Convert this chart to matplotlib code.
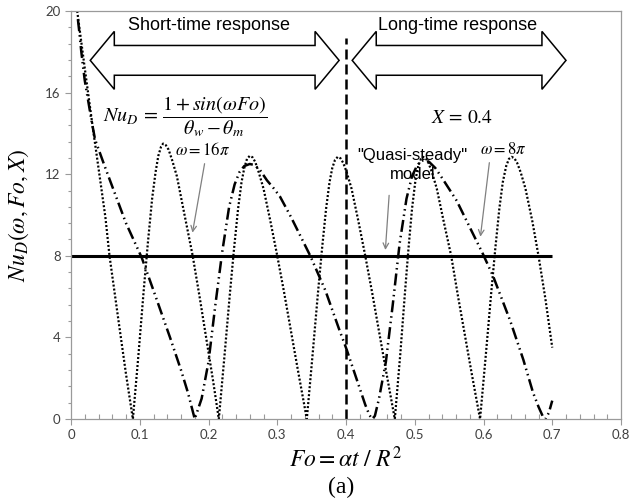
import matplotlib
matplotlib.use("Agg")
import matplotlib.pyplot as plt
from matplotlib.patches import Polygon
from matplotlib.ticker import MultipleLocator

plt.rcParams['mathtext.fontset'] = 'stix'

# omega = 16 pi (dotted curve)
fo_16 = [0.009, 0.02, 0.03, 0.04, 0.05, 0.056, 0.07, 0.08, 0.09,
         0.098, 0.106, 0.112, 0.118, 0.123, 0.127, 0.131, 0.134,
         0.138, 0.142, 0.147, 0.154, 0.164, 0.177, 0.187, 0.197, 0.207, 0.215,
         0.223, 0.231, 0.237, 0.243, 0.248, 0.252, 0.256, 0.260,
         0.264, 0.268, 0.273, 0.280, 0.290, 0.300, 0.310, 0.320, 0.330, 0.343,
         0.351, 0.359, 0.365, 0.371, 0.376, 0.380, 0.384, 0.388,
         0.392, 0.396, 0.401, 0.408, 0.418, 0.428, 0.438, 0.448, 0.458, 0.471,
         0.479, 0.486, 0.491, 0.496, 0.501, 0.505, 0.509, 0.512,
         0.516, 0.520, 0.525, 0.532, 0.542, 0.553, 0.563, 0.573, 0.583, 0.595,
         0.603, 0.611, 0.617, 0.623, 0.628, 0.633, 0.637, 0.641,
         0.645, 0.649, 0.654, 0.661, 0.671, 0.680, 0.690, 0.700]
nu_16 = [20.0, 17.2, 14.7, 12.3, 9.9, 8.0, 4.6, 2.2, 0.0,
         3.1, 6.4, 8.7, 10.8, 12.1, 12.9, 13.35, 13.5,
         13.42, 13.2, 12.7, 11.9, 10.2, 8.0, 6.0, 3.9, 1.8, 0.0,
         3.0, 6.1, 8.3, 10.3, 11.6, 12.3, 12.75, 12.9,
         12.83, 12.6, 12.1, 11.3, 9.7, 8.0, 6.2, 4.3, 2.4, 0.0,
         3.0, 6.1, 8.3, 10.3, 11.6, 12.3, 12.7, 12.85,
         12.78, 12.55, 12.1, 11.3, 9.7, 8.0, 6.2, 4.3, 2.4, 0.0,
         3.2, 6.3, 8.4, 10.3, 11.7, 12.4, 12.75, 12.85,
         12.78, 12.55, 12.1, 11.3, 9.7, 8.0, 6.0, 4.1, 2.2, 0.0,
         3.0, 6.1, 8.3, 10.3, 11.6, 12.4, 12.75, 12.85,
         12.78, 12.55, 12.1, 11.3, 9.7, 8.0, 5.9, 3.5]

# omega = 8 pi (dash-dot-dot curve)
fo_8 = [0.010, 0.012, 0.015, 0.020, 0.025, 0.030, 0.035, 0.050, 0.060,
        0.080, 0.103, 0.120, 0.144, 0.160, 0.170, 0.180,
        0.190, 0.200, 0.210, 0.220, 0.230, 0.238, 0.245, 0.252, 0.260,
        0.267, 0.275, 0.285, 0.295, 0.304, 0.320, 0.348, 0.370, 0.390,
        0.401, 0.410, 0.420, 0.428, 0.434, 0.438, 0.442,
        0.448, 0.458, 0.468, 0.478, 0.488, 0.496, 0.503, 0.509, 0.515,
        0.521, 0.530, 0.540, 0.561, 0.580, 0.599, 0.614, 0.639, 0.658,
        0.672, 0.680, 0.686, 0.690, 0.695, 0.700]
nu_8 = [19.6, 19.0, 18.0, 16.6, 15.6, 14.6, 13.7, 12.3, 11.4,
        9.6, 7.9, 6.3, 4.0, 2.4, 1.3, 0.0,
        1.0, 2.8, 5.6, 8.2, 10.4, 11.5, 12.1, 12.4, 12.5,
        12.45, 12.2, 11.7, 11.3, 10.9, 9.9, 8.0, 6.3, 4.4,
        3.4, 2.5, 1.5, 0.7, 0.2, 0.0, 0.15,
        1.0, 2.8, 5.6, 8.6, 10.8, 11.9, 12.4, 12.65, 12.7,
        12.6, 12.3, 11.8, 10.7, 9.4, 8.1, 7.0, 4.8, 2.9,
        1.3, 0.6, 0.15, 0.0, 0.3, 0.9]

quasi_steady = 8.0
fo_steady = [0.0, 0.7]
fo_switch = 0.4

x_ticks = [0, 0.1, 0.2, 0.3, 0.4, 0.5, 0.6, 0.7, 0.8]
y_ticks = [0, 4, 8, 12, 16, 20]

grey = '#9a9a9a'
narrow = ['Liberation Sans Narrow', 'Liberation Sans', 'DejaVu Sans']

fig = plt.figure(figsize=(6.3, 5.04), dpi=100)
ax = fig.add_axes([71/630, 85/504, 550/630, 408/504])

ax.plot(fo_8, nu_8, color='black', lw=1.8,
        linestyle=(0, (4.8, 1.6, 0.6, 1.6, 0.6, 1.6)))
ax.plot(fo_16, nu_16, color='black', lw=1.6, linestyle=(0, (0.9, 0.9)))
ax.plot(fo_steady, [quasi_steady, quasi_steady], color='black', lw=2.2,
        solid_capstyle='butt')
ax.plot([fo_switch, fo_switch], [0, 18.7], color='black', lw=1.8,
        linestyle=(0, (4, 2)))


def block_arrow(x0, x1, head):
    yc, s, h = 17.58, 0.73, 1.42
    pts = [(x0, yc), (x0 + head, yc + h), (x0 + head, yc + s),
           (x1 - head, yc + s), (x1 - head, yc + h), (x1, yc),
           (x1 - head, yc - h), (x1 - head, yc - s), (x0 + head, yc - s),
           (x0 + head, yc - h)]
    ax.add_patch(Polygon(pts, closed=True, facecolor='white',
                         edgecolor='black', lw=1.1, zorder=3))


block_arrow(0.028, 0.390, 0.035)
block_arrow(0.409, 0.720, 0.035)

ax.text(0.201, 19.3, 'Short-time response', ha='center', va='center',
        fontsize=13, family=narrow, zorder=4)
ax.text(0.563, 19.3, 'Long-time response', ha='center', va='center',
        fontsize=13, family=narrow, zorder=4,
        bbox=dict(facecolor='white', edgecolor='none', pad=0.5))

ax.text(0.046, 14.85, r'$Nu_D\, =\, \dfrac{1 + sin(\omega Fo)}{\theta_w - \theta_m}$',
        ha='left', va='center', fontsize=14.5)
ax.text(0.569, 14.8, r'$X\,=\,0.4$', ha='center', va='center', fontsize=14)

ax.text(0.497, 12.45, '"Quasi-steady"\nmodel', ha='center', va='center',
        fontsize=12, family=narrow, linespacing=1.35)
ax.annotate('', xy=(0.457, 8.15), xytext=(0.463, 11.1),
            arrowprops=dict(arrowstyle='->', color='#808080', lw=0.9))

ax.text(0.629, 13.25, r'$\omega{=}8\pi$', ha='center', va='center', fontsize=12)
ax.annotate('', xy=(0.595, 8.8), xytext=(0.609, 12.7),
            arrowprops=dict(arrowstyle='->', color='#808080', lw=0.9))

ax.text(0.192, 13.2, r'$\omega{=}16\pi$', ha='center', va='center', fontsize=12)
ax.annotate('', xy=(0.176, 9.0), xytext=(0.195, 12.65),
            arrowprops=dict(arrowstyle='->', color='#808080', lw=0.9))

ax.set_xlim(0, 0.8)
ax.set_ylim(0, 20)
ax.set_xticks(x_ticks)
ax.set_xticklabels([f'{v:g}' for v in x_ticks])
ax.set_yticks(y_ticks)
ax.xaxis.set_minor_locator(MultipleLocator(0.02))
ax.yaxis.set_minor_locator(MultipleLocator(0.8))
ax.tick_params(axis='both', which='major', length=4, width=0.8, color=grey,
               labelsize=9.5, labelcolor='#404040', direction='out')
ax.tick_params(axis='x', which='minor', length=3.5, width=0.8, color=grey,
               direction='in')
ax.tick_params(axis='y', which='minor', length=2.5, width=0.8, color=grey,
               direction='out')
for lab in ax.get_xticklabels() + ax.get_yticklabels():
    lab.set_family(['Lato', 'DejaVu Sans'])
for sp in ax.spines.values():
    sp.set_color(grey)
    sp.set_linewidth(0.9)

ax.set_ylabel(r'$Nu_D(\omega, Fo, X)$', fontsize=17, labelpad=10)
ax.set_xlabel(r'$Fo = \alpha t\ /\ R^2$', fontsize=17, labelpad=4)
fig.text(341/630, 1 - 487/504, '(a)', ha='center', va='center', fontsize=17,
         family=['Liberation Serif', 'DejaVu Serif'])

fig.savefig('out.png', dpi=100)
